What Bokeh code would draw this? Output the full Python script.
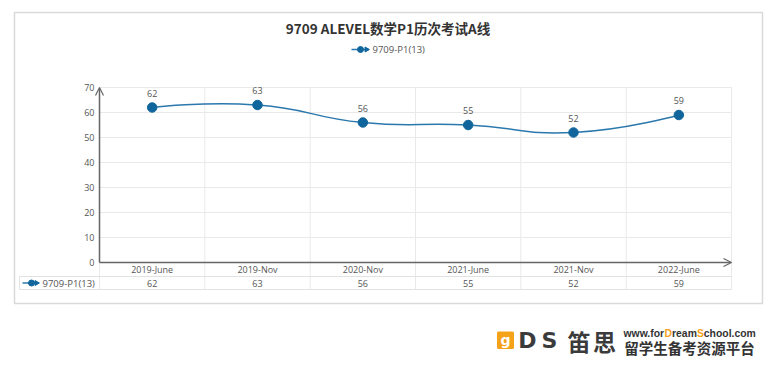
from bokeh.plotting import figure
from bokeh.models import Range1d, Arrow, OpenHead
from bokeh.core.properties import value
from bokeh.embed import file_html
from bokeh.resources import INLINE
import math

# ---------------- data ----------------
title_text = "9709 ALEVEL数学P1历次考试A线"
series_name = "9709-P1(13)"
categories = ["2019-June", "2019-Nov", "2020-Nov", "2021-June", "2021-Nov", "2022-June"]
values = [62, 63, 56, 55, 52, 59]
y_ticks = [0, 10, 20, 30, 40, 50, 60, 70]

# ---------------- layout helpers (page pixels -> data units) ----------------
PX_LEFT, PX_RIGHT = 99.0, 731.0       # plot area left/right on page
PY_ZERO, PY_TOP = 262.0, 87.0         # y=0 and y=70 on page
SX = (PX_RIGHT - PX_LEFT) / len(categories)
SY = (PY_ZERO - PY_TOP) / 70.0
ORIGIN = 0
W, H = 770, 358


def X(px):
    return (px - PX_LEFT) / SX


def Y(py):
    return (PY_ZERO - py) / SY


LINE_COLOR = "#2b78ad"
MARK_COLOR = "#0f659c"
TXT = "#555555"
GRID = "#e9e9e9"
AXIS = "#666666"
ORANGE = "#f5a21b"
FONT = "Open Sans"
CJK = "Noto Sans CJK SC"

p = figure(width=W, height=H,
           x_range=Range1d(X(ORIGIN), X(ORIGIN + W)), y_range=Range1d(Y(ORIGIN + H), Y(ORIGIN)),
           x_axis_type=None, y_axis_type=None, output_backend="svg", toolbar_location=None,
           min_border=0, min_border_left=0, min_border_right=0, min_border_top=0, min_border_bottom=0,
           outline_line_color=None, background_fill_color="white", border_fill_color="white")

# outer box
p.quad(left=[X(14)], right=[X(762)], top=[Y(12)], bottom=[Y(303)],
       fill_color="white", line_color="#d9d9d9", line_width=1.5)

# title
p.text(x=[X(387.5)], y=[Y(27)], text=[title_text], text_align="center", text_baseline="middle",
       text_font=value(CJK), text_font_style="bold", text_font_size="13.5px", text_color="#333333")

# top legend
p.line(x=[X(351), X(368)], y=[Y(49), Y(49)], line_color=LINE_COLOR, line_width=1.5)
p.scatter(x=[X(360)], y=[Y(49)], size=6, color=MARK_COLOR)
p.scatter(x=[X(366)], y=[Y(49)], size=5, marker="triangle", angle=-math.pi / 2, color=MARK_COLOR)
p.text(x=[X(372)], y=[Y(49)], text=[series_name], text_align="left", text_baseline="middle",
       text_font=value(FONT), text_font_size="9.5px", text_color=TXT)

n = len(categories)
xs_edges = list(range(n + 1))

# horizontal grid lines
hg = [t for t in y_ticks if t > 0]
p.segment(x0=[0] * len(hg), x1=[n] * len(hg), y0=hg, y1=hg, line_color=GRID, line_width=1)

# vertical grid lines (continuing into the data table)
p.segment(x0=xs_edges[1:], x1=xs_edges[1:], y0=[Y(289)] * n, y1=[max(y_ticks)] * n,
          line_color=GRID, line_width=1)
p.segment(x0=[0], x1=[0], y0=[Y(289)], y1=[0], line_color=GRID, line_width=1)

# data table horizontal lines and left border
p.segment(x0=[X(19), X(19)], x1=[n, n], y0=[Y(276), Y(289)], y1=[Y(276), Y(289)],
          line_color="#e2e2e2", line_width=1)
p.segment(x0=[X(19)], x1=[X(19)], y0=[Y(276)], y1=[Y(289)], line_color="#e2e2e2", line_width=1)

# axes with arrow heads
p.add_layout(Arrow(end=OpenHead(size=8, line_color=AXIS, line_width=1.2),
                   x_start=0, y_start=0, x_end=0, y_end=max(y_ticks),
                   line_color=AXIS, line_width=1.5))
p.add_layout(Arrow(end=OpenHead(size=8, line_color=AXIS, line_width=1.2),
                   x_start=0, y_start=0, x_end=n, y_end=0,
                   line_color=AXIS, line_width=1.5))

# y tick labels
p.text(x=[X(94)] * len(y_ticks), y=y_ticks, text=[str(t) for t in y_ticks], text_align="right",
       text_baseline="middle", text_font=value(FONT), text_font_size="9px", text_color=TXT)

centers = [i + 0.5 for i in range(n)]

# category labels (table header row)
p.text(x=centers, y=[Y(269)] * n, text=categories, text_align="center", text_baseline="middle",
       text_font=value(FONT), text_font_size="9px", text_color=TXT)
# table values row
p.text(x=centers, y=[Y(282.5)] * n, text=[str(v) for v in values], text_align="center",
       text_baseline="middle", text_font=value(FONT), text_font_size="9px", text_color=TXT)
# table legend cell
p.line(x=[X(22), X(37)], y=[Y(282.5), Y(282.5)], line_color=LINE_COLOR, line_width=1.5)
p.scatter(x=[X(31)], y=[Y(282.5)], size=6, color=MARK_COLOR)
p.scatter(x=[X(36)], y=[Y(282.5)], size=5, marker="triangle", angle=-math.pi / 2, color=MARK_COLOR)
p.text(x=[X(42)], y=[Y(282.5)], text=[series_name], text_align="left", text_baseline="middle",
       text_font=value(FONT), text_font_size="9.5px", text_color=TXT)

# smooth line (echarts-like bezier smoothing computed in pixel space)
smooth = 0.5
px = [c * SX for c in centers]
py = [v * SY for v in values]
segs = {k: [] for k in ("x0", "y0", "x1", "y1", "cx0", "cy0", "cx1", "cy1")}
cpx0, cpy0 = px[0], py[0]
for i in range(1, n):
    x, y = px[i], py[i]
    if i == n - 1:
        cpx1, cpy1 = x, y
        ncx, ncy = x, y
    else:
        vx = px[i + 1] - px[i - 1]
        vy = py[i + 1] - py[i - 1]
        lp = math.hypot(x - px[i - 1], y - py[i - 1])
        ln = math.hypot(px[i + 1] - x, py[i + 1] - y)
        r = ln / (ln + lp)
        cpx1, cpy1 = x - vx * smooth * (1 - r), y - vy * smooth * (1 - r)
        ncx, ncy = x + vx * smooth * r, y + vy * smooth * r
    segs["x0"].append(px[i - 1] / SX); segs["y0"].append(py[i - 1] / SY)
    segs["x1"].append(x / SX); segs["y1"].append(y / SY)
    segs["cx0"].append(cpx0 / SX); segs["cy0"].append(cpy0 / SY)
    segs["cx1"].append(cpx1 / SX); segs["cy1"].append(cpy1 / SY)
    cpx0, cpy0 = ncx, ncy
p.bezier(**segs, line_color=LINE_COLOR, line_width=1.5)

p.scatter(x=centers, y=values, size=9.5, color=MARK_COLOR)
p.text(x=centers, y=values, text=[str(v) for v in values], text_align="center", text_baseline="middle",
       y_offset=-14.5, text_font=value(FONT), text_font_size="9px", text_color=TXT)

# watermark logo
p.quad(left=[X(498)], right=[X(512)], top=[Y(332.5)], bottom=[Y(347)], fill_color=ORANGE,
       line_color=ORANGE, line_width=3, line_join="round")
p.text(x=[X(505)], y=[Y(339)], text=["g"], text_align="center", text_baseline="middle",
       text_font=value("DejaVu Sans"), text_font_style="bold", text_font_size="14px", text_color="white")
p.text(x=[X(527), X(549)], y=[Y(340)] * 2, text=["D", "S"], text_align="center", text_baseline="middle",
       text_font=value("DejaVu Sans"), text_font_style="bold", text_font_size="22px", text_color="#3b3b3b")
p.text(x=[X(578.5), X(604)], y=[Y(340)] * 2, text=["笛", "思"], text_align="center",
       text_baseline="middle", text_font=value(CJK), text_font_style="bold", text_font_size="23px",
       text_color="#3b3b3b")
url_parts = ["www.for", "D", "ream", "S", "chool.com"]
url_c = ["#333333", ORANGE, "#333333", ORANGE, "#333333"]
em = {"w": 0.778, ".": 0.278, "f": 0.333, "o": 0.611, "r": 0.389, "D": 0.722, "e": 0.556,
      "a": 0.556, "m": 0.889, "S": 0.667, "c": 0.556, "h": 0.611, "l": 0.278}
url_fs = 10.4
url_x = []
cur = 623.0
for part in url_parts:
    url_x.append(cur)
    cur += sum(em[ch] for ch in part) * url_fs
p.text(x=[X(v) for v in url_x], y=[Y(333)] * 5, text=url_parts, text_align="left", text_baseline="middle",
       text_font=value("Liberation Sans"), text_font_style="bold", text_font_size=f"{url_fs}px",
       text_color=url_c)
p.text(x=[X(689)], y=[Y(346.5)], text=["留学生备考资源平台"], text_align="center", text_baseline="middle",
       text_font=value(CJK), text_font_style="bold", text_font_size="14.5px", text_color="#333333")

open("out.html", "w").write(file_html(p, INLINE))
